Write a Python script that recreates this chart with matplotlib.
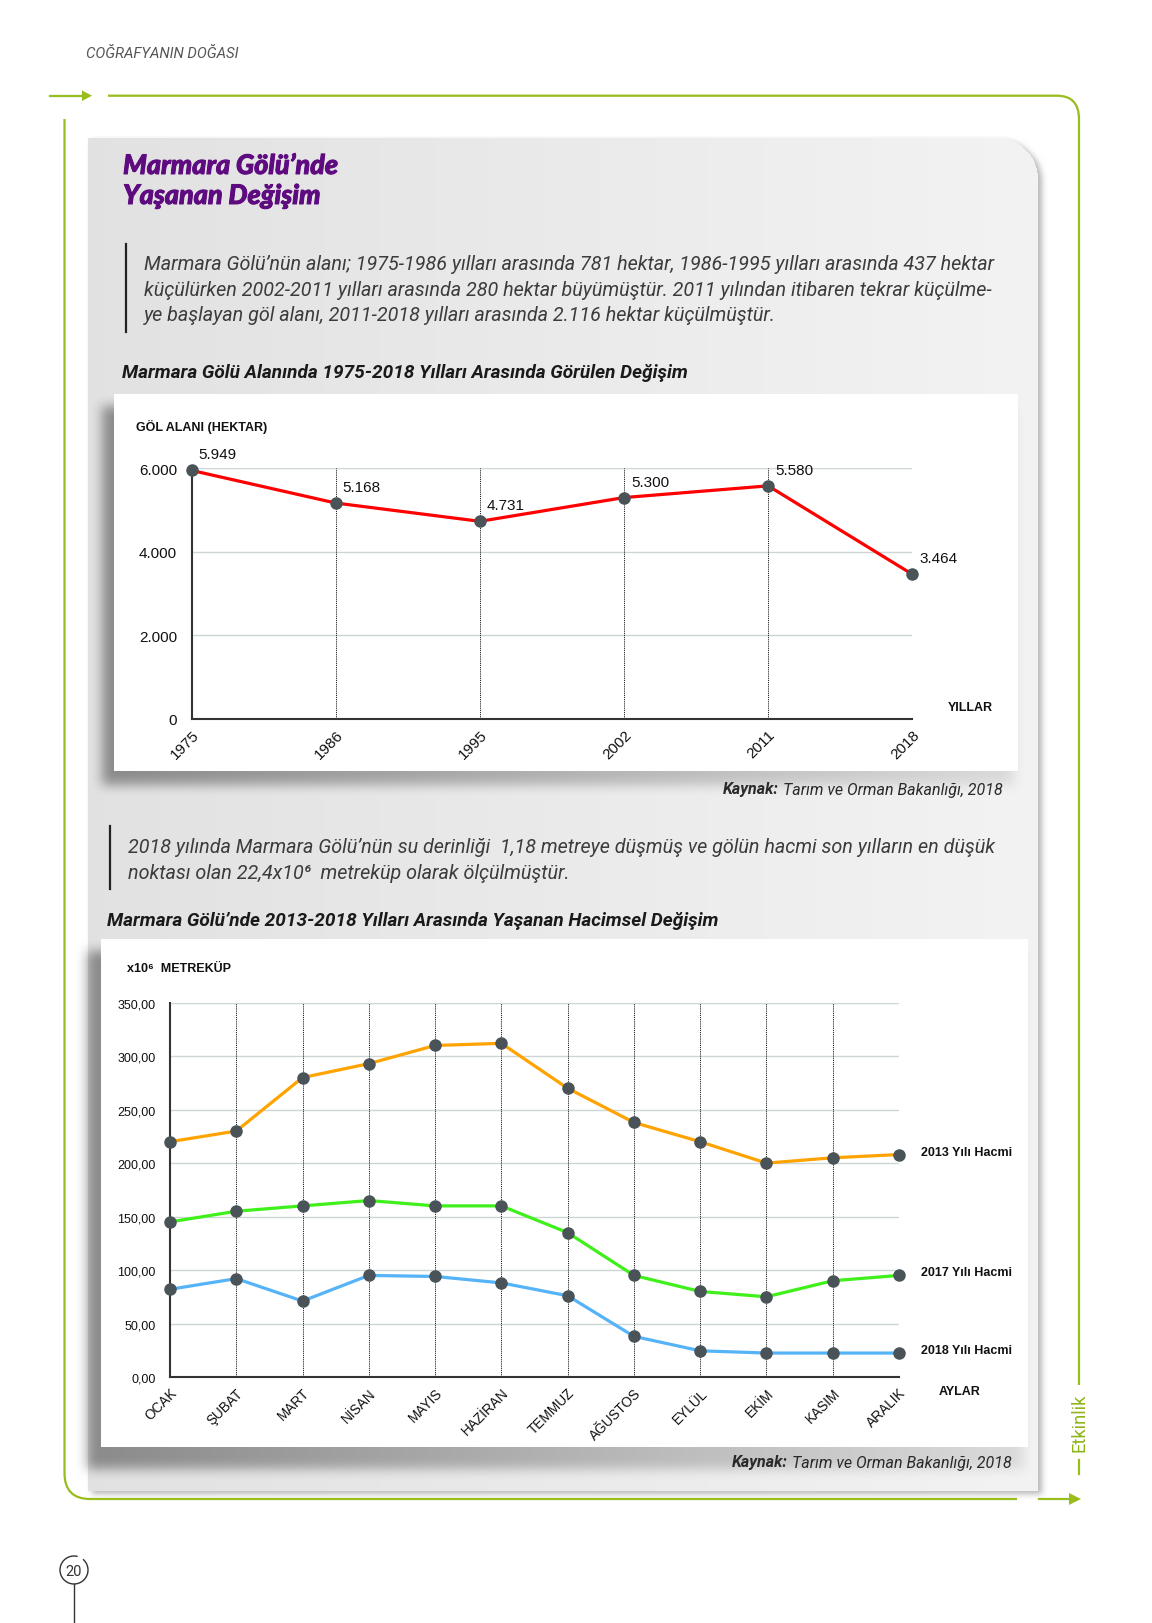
import numpy as np
import matplotlib
matplotlib.use('Agg')
import matplotlib.pyplot as plt
import matplotlib.patheffects as pe
from matplotlib.patches import Polygon, Arc, PathPatch
from matplotlib.path import Path

W, H = 1152, 1624

# ---------------- data ----------------
years = ['1975', '1986', '1995', '2002', '2011', '2018']
area = [5949, 5168, 4731, 5300, 5580, 3464]
area_labels = ['5.949', '5.168', '4.731', '5.300', '5.580', '3.464']
area_ticks = [0, 2000, 4000, 6000]
area_ticklabels = ['0', '2.000', '4.000', '6.000']

months = ['OCAK', 'ŞUBAT', 'MART', 'NİSAN', 'MAYIS', 'HAZİRAN', 'TEMMUZ',
          'AĞUSTOS', 'EYLÜL', 'EKİM', 'KASIM', 'ARALIK']
vol_2013 = [220, 230, 280, 293, 310, 312, 270, 238, 220, 200, 205, 208]
vol_2017 = [145, 155, 160, 165, 160, 160, 135, 95, 80, 75, 90, 95]
vol_2018 = [82, 92, 71, 95, 94, 88, 76, 38, 24.5, 22.4, 22.4, 22.4]
vol_ticks = [0, 50, 100, 150, 200, 250, 300, 350]
vol_ticklabels = ['0,00', '50,00', '100,00', '150,00', '200,00', '250,00', '300,00', '350,00']
series_names = ['2013 Yılı Hacmi', '2017 Yılı Hacmi', '2018 Yılı Hacmi']
series_colors = ['#ffa300', '#3ff01a', '#55b3f7']

header = 'COĞRAFYANIN DOĞASI'
title_lines = ['Marmara Gölü’nde', 'Yaşanan Değişim']
para1 = ['Marmara Gölü’nün alanı; 1975-1986 yılları arasında 781 hektar, 1986-1995 yılları arasında 437 hektar',
         'küçülürken 2002-2011 yılları arasında 280 hektar büyümüştür. 2011 yılından itibaren tekrar küçülme-',
         'ye başlayan göl alanı, 2011-2018 yılları arasında 2.116 hektar küçülmüştür.']
para2 = ['2018 yılında Marmara Gölü’nün su derinliği  1,18 metreye düşmüş ve gölün hacmi son yılların en düşük',
         'noktası olan 22,4x10⁶  metreküp olarak ölçülmüştür.']
chart1_title = 'Marmara Gölü Alanında 1975-2018 Yılları Arasında Görülen Değişim'
chart2_title = 'Marmara Gölü’nde 2013-2018 Yılları Arasında Yaşanan Hacimsel Değişim'
chart1_ylabel = 'GÖL ALANI (HEKTAR)'
chart1_xlabel = 'YILLAR'
chart2_ylabel = 'x10⁶  METREKÜP'
chart2_xlabel = 'AYLAR'
source_lbl = 'Kaynak:'
source_txt = 'Tarım ve Orman Bakanlığı, 2018'
side_label = 'Etkinlik'
page_no = '20'

CF = ['Liberation Sans', 'DejaVu Sans']
TF = ['Roboto', 'DejaVu Sans']
GREEN = '#98bd1c'
PURPLE = '#5e0b80'

fig = plt.figure(figsize=(W / 100, H / 100), dpi=100)
renderer = fig.canvas.get_renderer()

# ---------------- background (panel, boxes, shadows) ----------------
yy, xx = np.mgrid[0:H, 0:W] + 0.5


def rect_mask(x0, y0, x1, y1):
    return ((xx >= x0) & (xx < x1) & (yy >= y0) & (yy < y1)).astype(float)


def blur(a, r):
    k = 2 * r + 1
    for _ in range(2):
        c = np.cumsum(np.pad(a, ((0, 0), (r + 1, r)), mode='edge'), axis=1)
        a = (c[:, k:] - c[:, :-k]) / k
        c = np.cumsum(np.pad(a, ((r + 1, r), (0, 0)), mode='edge'), axis=0)
        a = (c[k:, :] - c[:-k, :]) / k
    return a


px0, py0, px1, py1, pr = 88, 139, 1038, 1492, 41
panel = rect_mask(px0, py0, px1, py1)
corner = (xx > px1 - pr) & (yy < py0 + pr)
outside = ((xx - (px1 - pr)) ** 2 + (yy - (py0 + pr)) ** 2) > pr ** 2
panel[corner & outside] = 0.0

bgimg = np.ones((H, W))
pshadow = blur(np.roll(np.roll(panel, 4, axis=1), 3, axis=0), 3) * 0.28
bgimg = bgimg - pshadow
grad = 0.885 + 0.068 * np.clip((xx - px0) / (px1 - px0), 0, 1)
bgimg = panel * grad + (1 - panel) * bgimg

boxes = [(114, 395, 1018, 772), (101, 940, 1028, 1448)]
for (bx0, by0, bx1, by1), (dx, dy) in zip(boxes, [(-12, 14), (-14, 22)]):
    sh = blur(rect_mask(bx0 + dx, by0 + 12, bx1 + dx * 0.3, by1 + dy), 6)
    f = 0.38 * (1 - 0.75 * np.clip((xx - bx0) / (bx1 - bx0), 0, 1))
    bgimg = bgimg * (1 - f * sh)
for (bx0, by0, bx1, by1) in boxes:
    m = rect_mask(bx0, by0, bx1, by1)
    bgimg = m * 1.0 + (1 - m) * bgimg

bg = fig.add_axes([0, 0, 1, 1])
bg.imshow(np.dstack([bgimg] * 3).clip(0, 1), extent=(0, W, H, 0), interpolation='none', aspect='auto')
bg.set_xlim(0, W)
bg.set_ylim(H, 0)
bg.axis('off')


def fit_text(x, y, s, width, vertical=False, **kw):
    t = bg.text(x, y, s, **kw)
    bb = t.get_window_extent(renderer=renderer)
    size = bb.height if vertical else bb.width
    t.set_fontsize(t.get_fontsize() * width / size)
    return t


# ---------------- green frame ----------------
lw = 1.6
bg.plot([50, 84], [96.7, 96.7], color=GREEN, lw=lw)
bg.add_patch(Polygon([(82, 91.5), (92, 96.7), (82, 102)], closed=True, color=GREEN, lw=0))
verts = [(108, 96.7), (1057, 96.7), (1079, 96.7), (1079, 120), (1079, 1386)]
codes = [Path.MOVETO, Path.LINETO, Path.CURVE3, Path.CURVE3, Path.LINETO]
bg.add_patch(PathPatch(Path(verts, codes), fc='none', ec=GREEN, lw=lw))
verts = [(64.5, 120), (64.5, 1474), (64.5, 1500), (90, 1500), (1017, 1500)]
bg.add_patch(PathPatch(Path(verts, codes), fc='none', ec=GREEN, lw=lw))
bg.plot([1079, 1079], [1461, 1475], color=GREEN, lw=lw)
bg.plot([1039, 1072], [1500, 1500], color=GREEN, lw=lw)
bg.add_patch(Polygon([(1069, 1494), (1081, 1500), (1069, 1506)], closed=True, color=GREEN, lw=0))
fit_text(1080, 1423, side_label, 58, vertical=True, rotation=90, ha='center', va='center',
         color='#8fb51a', family=TF, fontweight='normal', fontsize=12)

# page number
bg.add_patch(Arc((74, 1571), 28, 28, theta1=-50, theta2=285, color='#333333', lw=1.0))
bg.plot([74, 74], [1585, 1624], color='#333333', lw=1.0)
bg.text(74, 1572, page_no, ha='center', va='center', fontsize=10.5, family=TF, color='#333333')

# ---------------- page texts ----------------
fit_text(86, 54, header, 152, ha='left', va='center', family=TF, style='italic',
         color='#555555', fontsize=10)
for i, ln in enumerate(title_lines):
    t = bg.text(123, 167 + 30 * i, ln, ha='left', va='center', family=['Lato', 'DejaVu Sans'],
                style='italic', fontweight=900, color=PURPLE, fontsize=20,
                path_effects=[pe.withStroke(linewidth=0.7, foreground=PURPLE)])
    if i == 0:
        bb = t.get_window_extent(renderer=renderer)
        fs_title = 20 * 215 / bb.width
    t.set_fontsize(fs_title)

PCOL = '#3c3c3c'
# paragraph 1
bg.plot([125.5, 125.5], [245, 333], color='#222222', lw=1.6)
t0 = bg.text(144, 264, para1[0], ha='left', va='center', family=TF, style='italic',
             fontweight='normal', color=PCOL, fontsize=12)
bb = t0.get_window_extent(renderer=renderer)
fs_para = 12 * 846 / bb.width
t0.set_fontsize(fs_para)
for i, ln in enumerate(para1[1:]):
    bg.text(144, 290 + 25.5 * i, ln, ha='left', va='center', family=TF, style='italic',
            fontweight='normal', color=PCOL, fontsize=fs_para)

# paragraph 2
bg.plot([110, 110], [827, 890], color='#222222', lw=1.6)
for i, ln in enumerate(para2):
    bg.text(128, 848 + 26 * i, ln, ha='left', va='center', family=TF, style='italic',
            fontweight='normal', color=PCOL, fontsize=fs_para)

# chart titles
fit_text(122, 372.7, chart1_title, 566, ha='left', va='center', family=TF, style='italic',
         fontweight='bold', color='#1a1a1a', fontsize=12)
fit_text(107, 921, chart2_title, 610, ha='left', va='center', family=TF, style='italic',
         fontweight='bold', color='#1a1a1a', fontsize=12)


def source(xr, y):
    t = bg.text(xr, y, source_txt, ha='right', va='center', family=TF, style='italic',
                fontweight='normal', color='#2a2a2a', fontsize=11.5)
    bb = t.get_window_extent(renderer=renderer)
    xl = bg.transData.inverted().transform((bb.x0, bb.y0))[0]
    bg.text(xl - 5, y, source_lbl, ha='right', va='center', family=TF, style='italic',
            fontweight='bold', color='#2a2a2a', fontsize=11.5)


source(1003, 790)
source(1012, 1463)

# chart-area labels
bg.text(136, 427, chart1_ylabel, ha='left', va='center', family=CF, fontweight='bold',
        fontsize=9, color='#111111')
bg.text(948, 708, chart1_xlabel, ha='left', va='center', family=CF, fontweight='bold',
        fontsize=9, color='#111111')
bg.text(127, 969, chart2_ylabel, ha='left', va='center', family=CF, fontweight='bold',
        fontsize=9, color='#111111')
bg.text(939, 1392, chart2_xlabel, ha='left', va='center', family=CF, fontweight='bold',
        fontsize=9, color='#111111')


def pix_axes(x0, y0, x1, y1):
    return fig.add_axes([x0 / W, 1 - y1 / H, (x1 - x0) / W, (y1 - y0) / H])


def style_axes(ax, n, ymax, yticks, yticklabels, xlabels, ypad, xfs, yfs, xpad):
    ax.set_facecolor('none')
    ax.set_xlim(0, n - 1)
    ax.set_ylim(0, ymax)
    ax.set_yticks(yticks)
    ax.set_yticklabels(yticklabels, family=CF, fontsize=yfs, color='#111111')
    ax.set_xticks(range(n))
    ax.set_xticklabels(xlabels, family=CF, fontsize=xfs, color='#111111', rotation=45,
                       ha='right', va='top', rotation_mode='anchor')
    ax.tick_params(axis='both', length=0)
    ax.tick_params(axis='y', pad=ypad)
    ax.tick_params(axis='x', pad=xpad)
    for s in ['top', 'right']:
        ax.spines[s].set_visible(False)
    for s in ['left', 'bottom']:
        ax.spines[s].set_color('#333333')
        ax.spines[s].set_linewidth(1.5)
        ax.spines[s].set_zorder(4)
    for v in yticks[1:]:
        ax.axhline(v, color='#cdd5d5', lw=1.0, zorder=1)
    for i in range(1, n):
        ax.axvline(i, color='#1e1e1e', lw=0.7, ls=(0, (1.2, 1.0)), zorder=1)


# ---------------- chart 1 ----------------
ax1 = pix_axes(191.7, 469.3, 912.3, 720)
style_axes(ax1, len(years), 6000, area_ticks, area_ticklabels, years, 10.5, 11, 11, 6)
x1 = np.arange(len(years))
ax1.plot(x1, area, color='#ff0000', lw=2.3, zorder=3, clip_on=False)
ax1.plot(x1, area, 'o', color='#4a5458', ms=8, zorder=5, clip_on=False)
for xi, v, lab in zip(x1, area, area_labels):
    ax1.annotate(lab, (xi, v), xytext=(7, 16), textcoords='offset pixels', ha='left',
                 va='center', family=CF, fontsize=11, color='#111111', annotation_clip=False)

# ---------------- chart 2 ----------------
ax2 = pix_axes(170, 1003.7, 899, 1378)
style_axes(ax2, len(months), 350, vol_ticks, vol_ticklabels, months, 10.5, 9.8, 9, 6)
x2 = np.arange(len(months))
for vals, col, name in zip([vol_2013, vol_2017, vol_2018], series_colors, series_names):
    ax2.plot(x2, vals, color=col, lw=2.3, zorder=3, clip_on=False)
    ax2.plot(x2, vals, 'o', color='#4a5458', ms=8, zorder=5, clip_on=False)
    ax2.annotate(name, (x2[-1], vals[-1]), xytext=(22, 3), textcoords='offset pixels',
                 ha='left', va='center', family=CF, fontweight='bold', fontsize=9,
                 color='#111111', annotation_clip=False)

fig.savefig('out.png', dpi=100)
